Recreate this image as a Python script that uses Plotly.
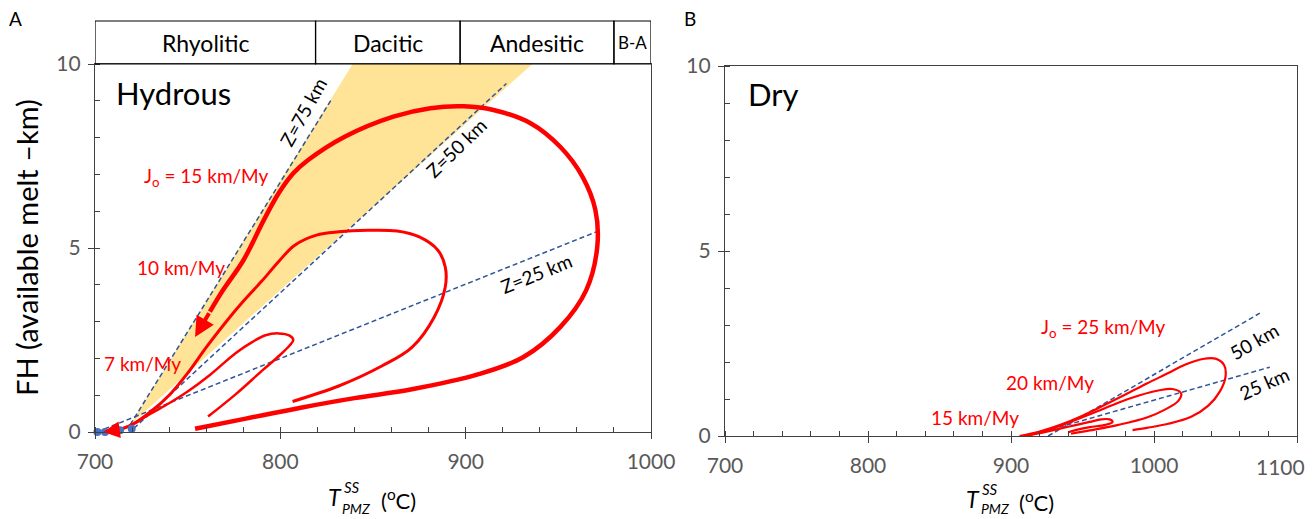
import plotly.graph_objects as go

# ---------------- data ----------------
# Panel A (Hydrous)
zones = ["Rhyolitic", "Dacitic", "Andesitic", "B-A"]
zone_edges = [700, 819, 897, 980, 1000]

wedge_T = [719, 839, 936]
wedge_FH = [0.2, 10, 10]

z75_T = [719, 828]
z75_FH = [0.2, 9.07]
z50_T = [721, 922]
z50_FH = [0.1, 9.47]
z25_T = [701, 972]
z25_FH = [0.0, 5.47]

j15_T = [754, 780, 811, 840, 871, 907, 931, 951, 965, 971, 970, 963, 951, 935, 915, 899,
         881, 861, 835, 815, 807, 799, 791, 780, 769, 762]
j15_FH = [0.09, 0.35, 0.66, 0.92, 1.16, 1.57, 2.03, 2.85, 3.85, 5.03, 6.03, 6.94, 7.75, 8.39, 8.75, 8.85,
          8.80, 8.57, 8.03, 7.39, 7.03, 6.48, 5.75, 4.66, 3.85, 3.27]

j10_T = [806.6, 831.5, 855, 871, 883, 889, 889, 885, 875, 863, 847, 831.5, 819.5, 807.6, 799.6,
         790, 780, 770, 760, 750, 740, 730, 720, 713]
j10_FH = [0.83, 1.25, 1.8, 2.3, 3.12, 3.94, 4.48, 4.94, 5.3, 5.46, 5.48, 5.44, 5.35, 5.07, 4.66,
          4.1, 3.55, 2.95, 2.3, 1.6, 1.0, 0.55, 0.2, 0.06]

j7_T = [761, 776, 790, 800, 805, 807, 805, 799, 792, 785, 776, 762, 750, 740, 730, 720, 712]
j7_FH = [0.42, 1.03, 1.66, 2.1, 2.35, 2.5, 2.62, 2.68, 2.63, 2.45, 2.15, 1.55, 1.1, 0.78, 0.5, 0.2, 0.05]

dots_T = [701.3, 705.4, 713.5, 719.8]
dots_FH = [0.0, 0.0, 0.05, 0.09]

xticks_A = [700, 800, 900, 1000]
xticks_B = [700, 800, 900, 1000, 1100]
yticks = [0, 5, 10]

# Panel B (Dry)
b50_T = [926, 1074]
b50_FH = [0.0, 3.32]
b25_T = [912, 1081]
b25_FH = [0.0, 1.86]

d25_T = [906, 920, 935, 950, 965, 980, 995, 1010, 1022, 1034, 1043, 1049, 1050, 1046, 1038, 1026, 1010, 995, 985]
d25_FH = [0.0, 0.12, 0.31, 0.55, 0.83, 1.12, 1.42, 1.7, 1.93, 2.08, 2.09, 1.92, 1.6, 1.2, 0.82, 0.52, 0.33, 0.22, 0.16]

d20_T = [908, 925, 945, 960, 975, 990, 1003, 1013, 1019, 1017, 1008, 995, 975, 955, 942]
d20_FH = [0.0, 0.15, 0.43, 0.66, 0.9, 1.1, 1.23, 1.27, 1.15, 0.95, 0.72, 0.5, 0.3, 0.15, 0.06]

d15_T = [910, 925, 940, 955, 963, 969, 971, 966, 955, 945, 940]
d15_FH = [0.0, 0.12, 0.25, 0.38, 0.45, 0.45, 0.38, 0.3, 0.24, 0.16, 0.1]

# ---------------- style ----------------
FONT = "Lato, Carlito, Calibri, sans-serif"
RED = "#FF0000"
DASH = "#2F5597"
YEL = "#FFE397"
AX = "#404040"
TICKCOL = "#595959"
W, H = 1316, 519
OFF = 8  # page body margin


def px(x):
    return (x - OFF) / W


def py(y):
    return 1 - (y - OFF) / H


fig = go.Figure()

# wedge
fig.add_trace(go.Scatter(x=wedge_T + [wedge_T[0]], y=wedge_FH + [wedge_FH[0]], fill="toself",
                         fillcolor=YEL, line=dict(width=0), mode="lines", xaxis="x", yaxis="y",
                         hoverinfo="skip"))
for tx, ty in [(z75_T, z75_FH), (z50_T, z50_FH), (z25_T, z25_FH)]:
    fig.add_trace(go.Scatter(x=tx, y=ty, mode="lines", line=dict(color=DASH, width=1.5, dash="5px,3px"),
                             xaxis="x", yaxis="y"))
fig.add_trace(go.Scatter(x=j7_T, y=j7_FH, mode="lines", line=dict(color=RED, width=2.5, shape="spline"),
                         xaxis="x", yaxis="y"))
fig.add_trace(go.Scatter(x=j10_T, y=j10_FH, mode="lines", line=dict(color=RED, width=3, shape="spline"),
                         xaxis="x", yaxis="y"))
fig.add_trace(go.Scatter(x=j15_T, y=j15_FH, mode="lines", line=dict(color=RED, width=4.5, shape="spline"),
                         xaxis="x", yaxis="y"))
fig.add_trace(go.Scatter(x=dots_T, y=dots_FH, mode="markers", marker=dict(color="#4472C4", size=8),
                         cliponaxis=False, xaxis="x", yaxis="y"))

# panel B
for tx, ty in [(b50_T, b50_FH), (b25_T, b25_FH)]:
    fig.add_trace(go.Scatter(x=tx, y=ty, mode="lines", line=dict(color=DASH, width=1.5, dash="5px,3px"),
                             xaxis="x2", yaxis="y2"))
for tx, ty in [(d25_T, d25_FH), (d20_T, d20_FH), (d15_T, d15_FH)]:
    fig.add_trace(go.Scatter(x=tx, y=ty, mode="lines", line=dict(color=RED, width=2.2, shape="spline"),
                             xaxis="x2", yaxis="y2"))

# header boxes
shapes = []
for i in range(len(zones)):
    shapes.append(dict(type="rect", xref="x", yref="paper", x0=zone_edges[i], x1=zone_edges[i + 1],
                       y0=py(64), y1=py(21), line=dict(color="#000000", width=1.2)))

annotations = []
for i, z in enumerate(zones):
    annotations.append(dict(xref="x", yref="paper", x=(zone_edges[i] + zone_edges[i + 1]) / 2,
                            y=py(43), text=z, showarrow=False, xanchor="center", yanchor="middle",
                            font=dict(family=FONT, size=17 if z == "B-A" else 23, color="#000000")))


def txt(x, y, t, size, color="#000000", ref="", angle=0, xanchor="center"):
    annotations.append(dict(xref="x" + ref, yref="y" + ref, x=x, y=y, text=t, showarrow=False,
                            textangle=angle, xanchor=xanchor, yanchor="middle",
                            font=dict(family=FONT, size=size, color=color)))


txt(710, 9.2, "Hydrous", 31, xanchor="left")
txt(812.5, 8.7, "Z=75 km", 19, angle=-61)
txt(895, 7.72, "Z=50 km", 19, angle=-44)
txt(938, 4.3, "Z=25 km", 19, angle=-22)
txt(760, 6.94, "J<sub>o</sub> = 15 km/My", 19, RED)
txt(746.5, 4.46, "10 km/My", 19, RED)
txt(725.4, 1.85, "7 km/My", 19, RED)

txt(714.7, 9.25, "Dry", 31, ref="2", xanchor="left")
txt(964.6, 2.93, "J<sub>o</sub> = 25 km/My", 19, RED, ref="2")
txt(927.4, 1.45, "20 km/My", 19, RED, ref="2")
txt(875, 0.5, "15 km/My", 19, RED, ref="2")
txt(1069.6, 2.56, "50 km", 19, ref="2", angle=-30)
txt(1076.7, 1.43, "25 km", 19, ref="2", angle=-24)

# arrows
annotations.append(dict(xref="x", yref="y", axref="x", ayref="y", x=754, y=2.58, ax=762, ay=3.27,
                        text="", showarrow=True, arrowhead=2, arrowsize=1.0, arrowwidth=4, arrowcolor=RED,
                        standoff=0))
annotations.append(dict(xref="x", yref="y", axref="x", ayref="y", x=704.5, y=0.0, ax=713, ay=0.06,
                        text="", showarrow=True, arrowhead=2, arrowsize=1.1, arrowwidth=3, arrowcolor=RED,
                        standoff=0))


def ptxt(x, y, t, size, angle=0, xanchor="center", color="#000000"):
    annotations.append(dict(xref="paper", yref="paper", x=px(x), y=py(y), text=t, showarrow=False,
                            textangle=angle, xanchor=xanchor, yanchor="middle",
                            font=dict(family=FONT, size=size, color=color)))


# panel letters
ptxt(15, 19, "A", 19)
ptxt(690, 19, "B", 19)

# y axis title
ptxt(26, 248, "FH (available melt \u2013km)", 29, angle=-90)

# last tick label of panel B drawn at the right edge so it stays inside the page
ptxt(1307, 466, str(xticks_B[-1]), 21, xanchor="right", color=TICKCOL)


def xtitle(dx, dy):
    ptxt(335 + dx, 497 + dy, "<i>T</i>", 23)
    ptxt(352 + dx, 487 + dy, "<i>SS</i>", 15)
    ptxt(357 + dx, 508, "<i>PMZ</i>", 14)
    ptxt(398 + dx, 499 + dy, "(<sup>o</sup>C)", 22)


xtitle(0, 0)
xtitle(638, 2)

axis_common = dict(showline=True, linecolor=AX, linewidth=1.2, mirror=True, showgrid=False, zeroline=False,
                   automargin=False, ticks="outside", ticklen=6, tickcolor=AX, tickwidth=1.2,
                   tickfont=dict(family=FONT, size=21, color=TICKCOL))


def minor(dt):
    return dict(ticks="inside", ticklen=5, tickcolor=AX, tickwidth=1, showgrid=False, dtick=dt)


fig.update_layout(
    template="none",
    width=W, height=H, margin=dict(l=0, r=0, t=0, b=0, pad=0), paper_bgcolor="white", plot_bgcolor="white",
    showlegend=False, shapes=shapes, annotations=annotations,
    xaxis=dict(domain=[px(95), px(651)], range=[700, 1000], tickvals=xticks_A, anchor="y",
               ticklabelstandoff=5, minor=minor(20), **axis_common),
    yaxis=dict(domain=[py(432), py(64)], range=[0, 10], tickvals=yticks, anchor="x",
               ticklabelstandoff=3, minor=minor(1), **axis_common),
    xaxis2=dict(domain=[px(725), px(1297)], range=[700, 1100], tickvals=xticks_B,
                ticktext=[str(v) for v in xticks_B[:-1]] + [""],
                anchor="y2", ticklabelstandoff=5, minor=minor(20), **axis_common),
    yaxis2=dict(domain=[py(436), py(66)], range=[0, 10], tickvals=yticks, anchor="x2",
                ticklabelstandoff=3, minor=minor(1), **axis_common),
)

fig.write_html("out.html")
